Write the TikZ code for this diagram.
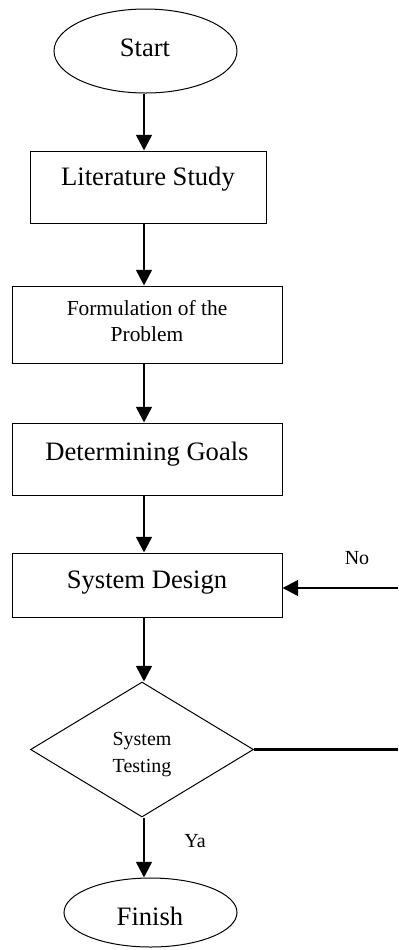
\documentclass[tikz,border=0pt]{standalone}
\usepackage{fontspec}
\setmainfont{Liberation Serif}
\usetikzlibrary{shapes.geometric,arrows.meta}
\begin{document}
\begin{tikzpicture}[x=0.5pt,y=-0.5pt,
  term/.style={draw,ellipse,line width=0.5pt,inner sep=0pt},
  procbox/.style={draw,rectangle,line width=0.5pt,inner sep=0pt},
  decide/.style={draw,diamond,line width=0.5pt,inner sep=0pt,minimum width=111.5pt,minimum height=67.5pt},
  big/.style={font=\fontsize{13.3}{16}\selectfont,anchor=base,inner sep=0pt},
  small/.style={font=\fontsize{10.7}{13}\selectfont,anchor=base,inner sep=0pt},
  tinytxt/.style={font=\fontsize{10}{12}\selectfont,anchor=base,inner sep=0pt},
  arr/.style={line width=1.25pt,-{Triangle[length=7.8pt,width=7.8pt]}},
  flow/.style={line width=1.25pt}]
\useasboundingbox (0,0) rectangle (398,950);
\clip (0,0) rectangle (398,950);

\coordinate (ax) at (144,0);

% shapes
\node[term, minimum width=91.5pt, minimum height=42pt] (start) at (145.5,51) {};
\node[procbox, minimum width=118pt, minimum height=36pt] (lit) at (148,187) {};
\node[procbox, minimum width=135pt, minimum height=38.5pt] (form) at (147,324.5) {};
\node[procbox, minimum width=135pt, minimum height=36pt] (goals) at (147,459) {};
\node[procbox, minimum width=135pt, minimum height=32pt] (design) at (147,585) {};
\node[decide] (test) at (142,749.5) {};
\node[term, minimum width=86.5pt, minimum height=34.5pt] (finish) at (150.5,912.5) {};

% texts
\node[big] (tstart) at (145,56) {Start};
\node[big] (tlit) at (148,185) {Literature Study};
\node[small] (tform1) at (147,315) {Formulation of the};
\node[small] (tform2) at (147,341) {Problem};
\node[big] (tgoals) at (147,460) {Determining Goals};
\node[big] (tdesign) at (147,588) {System Design};
\node[tinytxt] (ttest1) at (142,745) {System};
\node[tinytxt] (ttest2) at (142,772) {Testing};
\node[big] (tfinish) at (150,925) {Finish};
\node[tinytxt] (tno) at (357,564) {No};
\node[tinytxt] (tya) at (195,847) {Ya};

% connectors
\draw[arr] (start.south -| ax) -- (lit.north -| ax);
\draw[arr] (lit.south -| ax) -- (form.north -| ax);
\draw[arr] (form.south -| ax) -- (goals.north -| ax);
\draw[arr] (goals.south -| ax) -- (design.north -| ax);
\draw[arr] (design.south -| ax) -- (test.north -| ax);
\draw[arr] (test.south -| ax) -- (finish.north -| ax);

\coordinate (re) at (398,749.5);
\coordinate (rn) at (398,588);
\draw[flow] (test.east) -- (re);
\draw[arr] (rn) -- (design.east |- rn);
\end{tikzpicture}
\end{document}
